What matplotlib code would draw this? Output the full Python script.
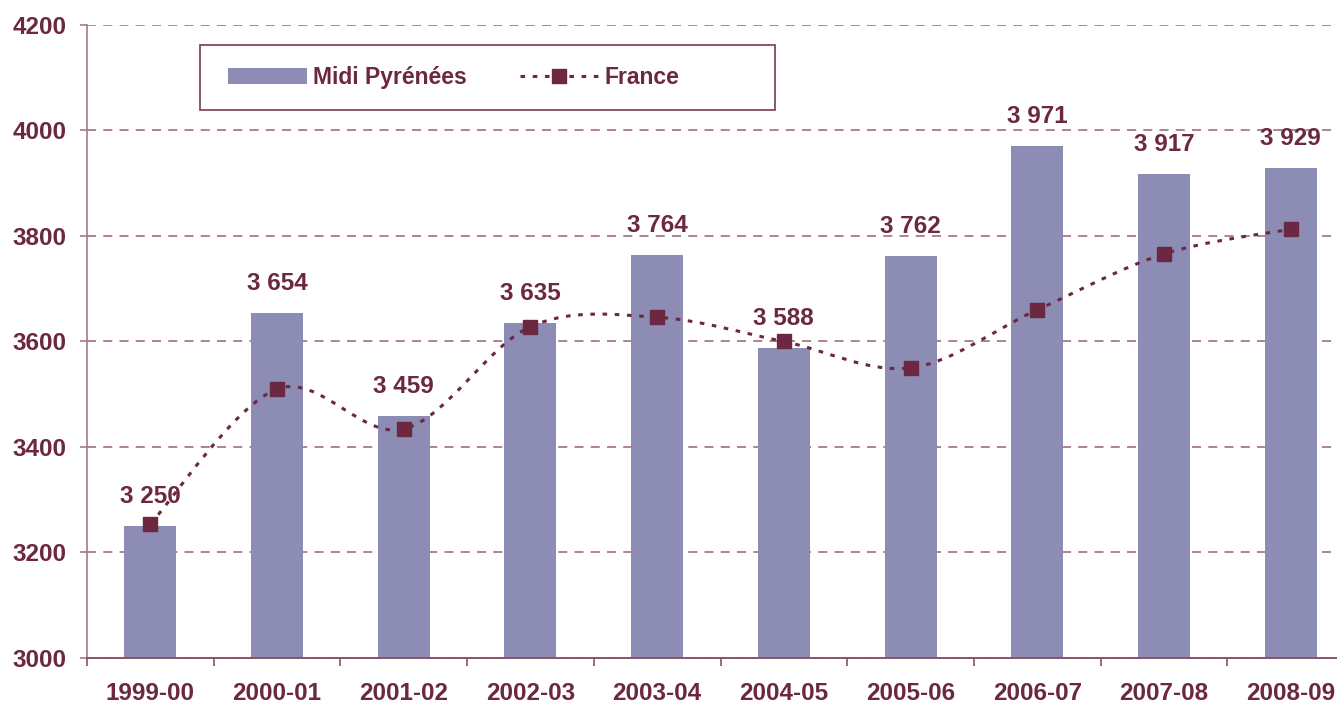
import numpy as np
import matplotlib
matplotlib.use("Agg")
import matplotlib.pyplot as plt
from matplotlib.path import Path
from matplotlib.patches import PathPatch, Patch, Rectangle
from matplotlib.lines import Line2D

plt.rcParams['font.family'] = ['Liberation Sans', 'DejaVu Sans']
plt.rcParams['font.weight'] = 'bold'

seasons = ['1999-00', '2000-01', '2001-02', '2002-03', '2003-04',
           '2004-05', '2005-06', '2006-07', '2007-08', '2008-09']
midi_pyrenees = [3250, 3654, 3459, 3635, 3764, 3588, 3762, 3971, 3917, 3929]
france = [3254, 3510, 3434, 3628, 3646, 3600, 3550, 3660, 3766, 3813]

bar_color = '#8c8cb4'
maroon = '#6b2840'
grid_color = '#a67a8a'
W, H = 1337, 704


def smooth_path(xs, ys):
    # Catmull-Rom style bezier segments, like the spreadsheet "smoothed line"
    pts = np.column_stack([xs, ys]).astype(float)
    n = len(pts)
    verts = [pts[0]]
    codes = [Path.MOVETO]
    for i in range(n - 1):
        p0 = pts[max(i - 1, 0)]
        p1 = pts[i]
        p2 = pts[i + 1]
        p3 = pts[min(i + 2, n - 1)]
        c1 = p1 + (p2 - p0) / 6
        c2 = p2 - (p3 - p1) / 6
        verts += [c1, c2, p2]
        codes += [Path.CURVE4] * 3
    return Path(verts, codes)


fig = plt.figure(figsize=(W / 100, H / 100), dpi=100)
ax = fig.add_axes([87 / W, 1 - 658 / H, 1267 / W, 633 / H])

x = np.arange(len(seasons))
ax.bar(x, midi_pyrenees, width=0.41, color=bar_color, zorder=2)

line_style = (0, (1.5, 2.5))
ax.add_patch(PathPatch(smooth_path(x, france), fill=False, edgecolor=maroon,
                       lw=2.2, linestyle=line_style, zorder=3))
ax.plot(x, france, linestyle='none', marker='s', markersize=9.5,
        color=maroon, zorder=4)

for xi, v in zip(x, midi_pyrenees):
    ax.annotate(f'{v:,}'.replace(',', ' '), (xi, v), xytext=(0, 13),
                textcoords='offset points', ha='center', va='bottom',
                fontsize=17.5, fontweight='bold', color=maroon)

ax.set_xlim(-0.5, len(seasons) - 0.5)
ax.set_ylim(3000, 4200)
ax.set_yticks(np.arange(3000, 4201, 200))
ax.yaxis.grid(True, color=grid_color, linestyle=(0, (5, 4)), lw=1.3)
ax.set_axisbelow(True)

ax.set_xticks(x)
ax.set_xticklabels(seasons)
ax.set_xticks(np.arange(-0.5, len(seasons), 1), minor=True)
ax.tick_params(axis='x', which='major', length=0, pad=17,
               labelsize=17.5, labelcolor=maroon)
ax.tick_params(axis='x', which='minor', length=6, width=1.2,
               color='#8a5468', direction='out')
ax.tick_params(axis='y', length=5, width=1.2, color='#a67a8a', pad=10,
               labelsize=17.5, labelcolor=maroon)

for s in ['top', 'right']:
    ax.spines[s].set_visible(False)
ax.spines['left'].set_color('#a67a8a')
ax.spines['left'].set_linewidth(1.2)
ax.spines['bottom'].set_color('#8a5468')
ax.spines['bottom'].set_linewidth(1.4)

# legend box drawn separately so it can be wider than its content
fig.patches.append(Rectangle((200 / W, 1 - 110 / H), 575 / W, 65 / H,
                             transform=fig.transFigure, fill=True,
                             facecolor='white', edgecolor='#7a3a50',
                             lw=1.2, zorder=5))

handles = [Patch(facecolor=bar_color, edgecolor='none'),
           Line2D([0], [0], color=maroon, lw=2.2, linestyle=line_style,
                  marker='s', markersize=9.5)]
leg = fig.legend(handles, ['Midi Pyrénées', 'France'], ncol=2,
                 loc='center left', bbox_to_anchor=(228 / W, 1 - 77.5 / H),
                 fontsize=16.5, frameon=False,
                 handlelength=3.45, handleheight=0.75, handletextpad=0.27,
                 columnspacing=2.3, borderpad=0, borderaxespad=0)
leg.set_zorder(6)
for t in leg.get_texts():
    t.set_color(maroon)
    t.set_fontweight('bold')

fig.savefig('out.png', dpi=100)
